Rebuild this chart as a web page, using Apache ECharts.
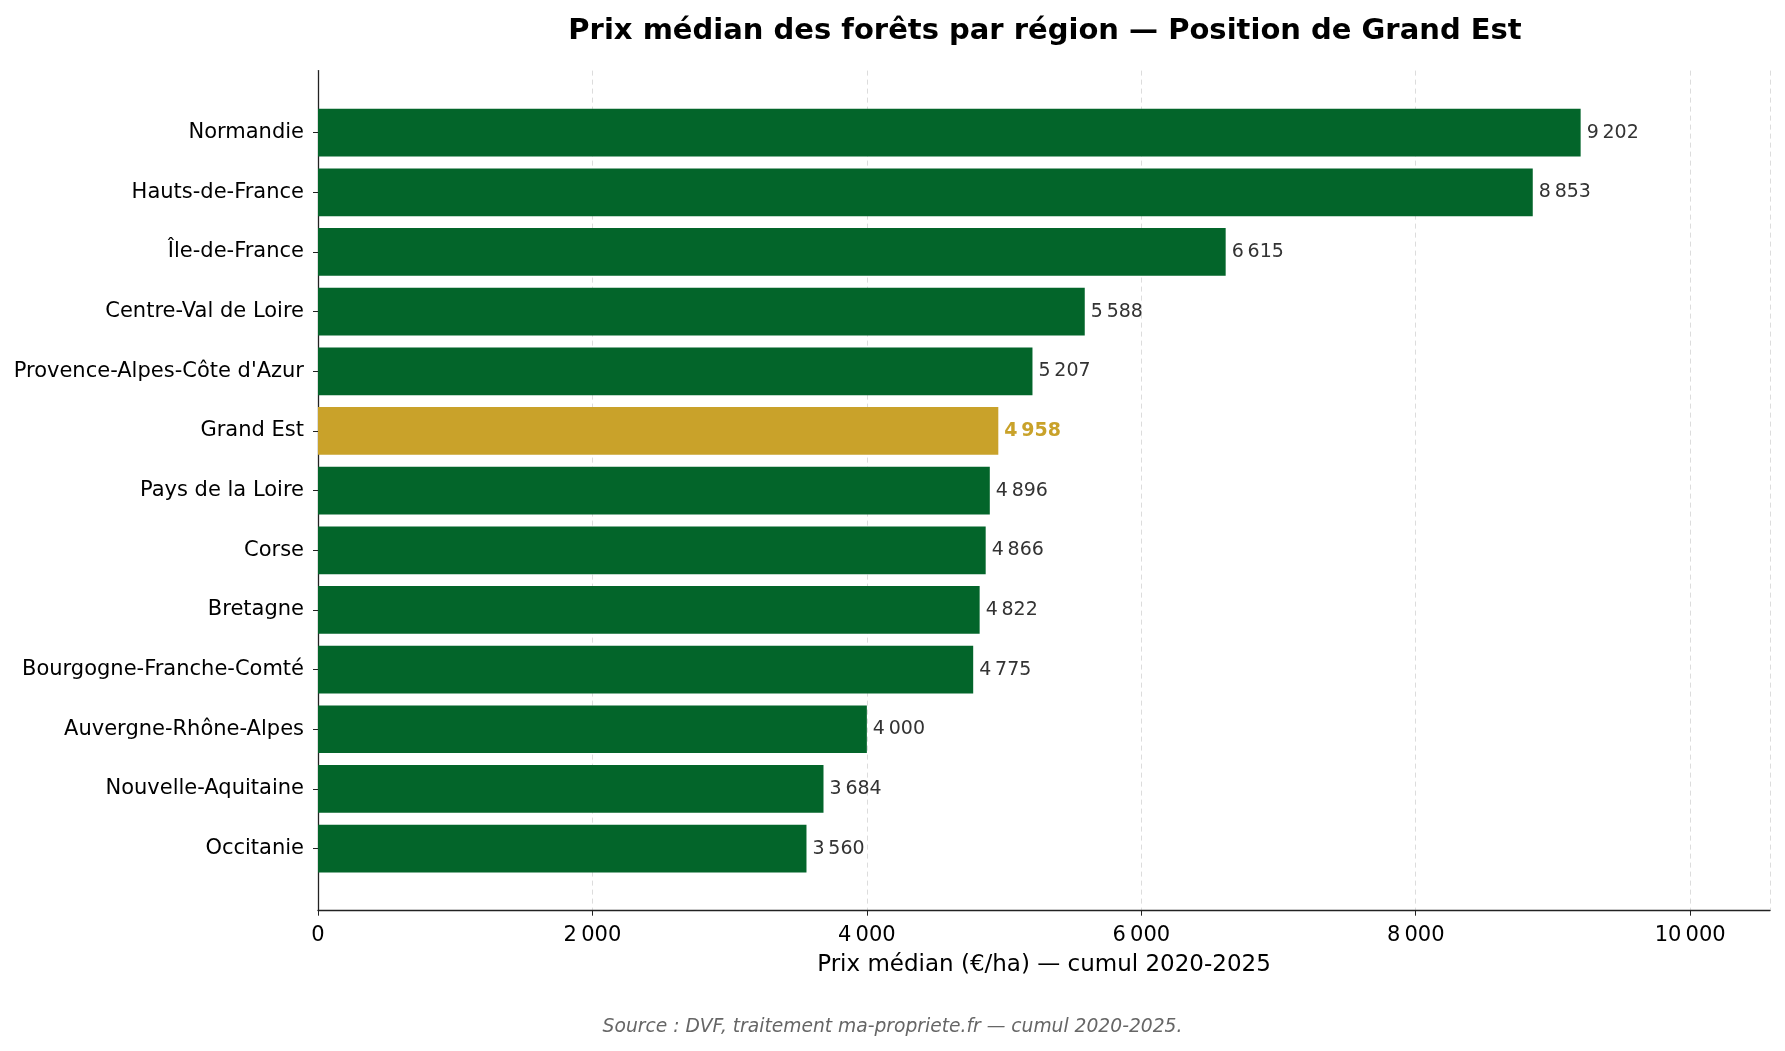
<!DOCTYPE html>
<html>
<head>
<meta charset="utf-8">
<script src="https://cdn.jsdelivr.net/npm/echarts@6/dist/echarts.min.js"></script>
<style>
  html, body { margin: 0; padding: 0; background: #fff; }
  #main { width: 1785px; height: 1051px; }
</style>
</head>
<body>
<div id="main"></div>
<script>
// données
const regions = ['Normandie', 'Hauts-de-France', 'Île-de-France', 'Centre-Val de Loire',
  "Provence-Alpes-Côte d'Azur", 'Grand Est', 'Pays de la Loire', 'Corse', 'Bretagne',
  'Bourgogne-Franche-Comté', 'Auvergne-Rhône-Alpes', 'Nouvelle-Aquitaine', 'Occitanie'];
const prices = [9202, 8853, 6615, 5588, 5207, 4958, 4896, 4866, 4822, 4775, 4000, 3684, 3560];
const xTicks = [0, 2000, 4000, 6000, 8000, 10000];
const highlight = 'Grand Est';

const GREEN = '#03652a';
const GOLD = '#c9a22a';
const FONT = 'DejaVu Sans';
const xMax = 10582;

function fmt(v) {
  return String(Math.round(v)).replace(/\B(?=(\d{3})+(?!\d))/g, '\u202f');
}

const chart = echarts.init(document.getElementById('main'), null, { renderer: 'canvas' });

chart.setOption({
  backgroundColor: '#fff',
  animation: false,
  textStyle: { fontFamily: FONT },
  title: {
    text: 'Prix médian des forêts par région — Position de Grand Est',
    left: 1040,
    top: 12,
    textAlign: 'center',
    textStyle: { fontFamily: FONT, fontSize: 29, fontWeight: 'bold', color: '#000' }
  },
  graphic: [{
    type: 'text',
    left: 'center',
    top: 1018,
    style: {
      text: 'Source : DVF, traitement ma-propriete.fr — cumul 2020-2025.',
      font: 'italic 18.7px "DejaVu Sans"',
      fill: '#666'
    }
  }],
  // grid 0 = cadre (axes, grille), grid 1 = barres
  grid: [
    { left: 318, right: 15, top: 70.6, bottom: 140.3 },
    { left: 318, right: 15, top: 102.8, bottom: 172.6 }
  ],
  xAxis: [
    {
      gridIndex: 0,
      type: 'value',
      min: 0,
      max: xMax,
      interval: 2000,
      name: 'Prix médian (€/ha) — cumul 2020-2025',
      nameLocation: 'middle',
      nameGap: 43,
      nameTextStyle: { fontFamily: FONT, fontSize: 23, color: '#000' },
      axisLine: { show: true, lineStyle: { color: '#222', width: 1.3 } },
      axisTick: { show: true, length: 5, lineStyle: { color: '#222' } },
      axisLabel: {
        fontFamily: FONT, fontSize: 21, color: '#000', margin: 14,
        showMaxLabel: false,
        formatter: v => xTicks.includes(v) ? fmt(v) : ''
      },
      splitLine: { show: true, lineStyle: { color: '#dcdcdc', type: [5, 4], width: 1 } }
    },
    {
      gridIndex: 1,
      type: 'value',
      min: 0,
      max: xMax,
      show: false
    }
  ],
  yAxis: [
    {
      gridIndex: 0,
      type: 'value',
      min: 0,
      max: 1,
      axisLine: { show: true, lineStyle: { color: '#222', width: 1.3 } },
      axisTick: { show: false },
      axisLabel: { show: false },
      splitLine: { show: false }
    },
    {
      gridIndex: 1,
      type: 'category',
      inverse: true,
      data: regions,
      axisLine: { show: false },
      axisTick: { show: true, alignWithLabel: true, length: 5, lineStyle: { color: '#222' } },
      axisLabel: { fontFamily: FONT, fontSize: 21, color: '#000', margin: 14 }
    }
  ],
  series: [{
    type: 'bar',
    xAxisIndex: 1,
    yAxisIndex: 1,
    barWidth: '80%',
    data: prices.map((v, i) => {
      const hi = regions[i] === highlight;
      return {
        value: v,
        itemStyle: { color: hi ? GOLD : GREEN },
        label: hi ? { color: GOLD, fontWeight: 'bold' } : {}
      };
    }),
    label: {
      show: true,
      position: 'right',
      distance: 6,
      fontFamily: FONT,
      fontSize: 19,
      color: '#333',
      formatter: p => fmt(p.value)
    }
  }]
});
</script>
</body>
</html>
